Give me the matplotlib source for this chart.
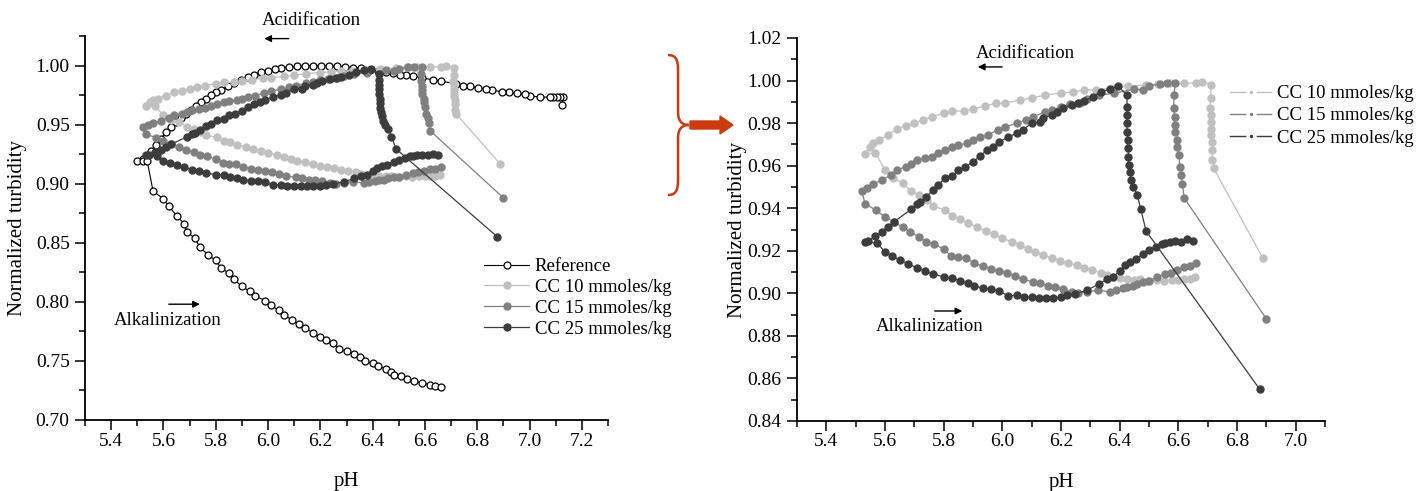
import numpy as np
import matplotlib
matplotlib.use("Agg")
import matplotlib.pyplot as plt
from matplotlib.lines import Line2D
from matplotlib.path import Path
from matplotlib.patches import PathPatch, FancyArrow
from matplotlib.ticker import MultipleLocator

plt.rcParams["font.family"] = ["Liberation Serif", "DejaVu Serif"]
plt.rcParams["font.size"] = 14

# Reference (no CC): pH / normalized turbidity, in measuring order
ref_ph = [7.123, 7.129, 7.116, 7.104, 7.09, 7.078, 7.04, 7.001, 6.982, 6.953, 6.922,
          6.893, 6.855, 6.833, 6.803, 6.774, 6.744, 6.718, 6.663, 6.631, 6.587,
          6.554, 6.529, 6.506, 6.478, 6.452, 6.421, 6.389, 6.357, 6.325, 6.294,
          6.263, 6.233, 6.202, 6.171, 6.141, 6.110, 6.079, 6.050, 6.025, 5.999,
          5.974, 5.948, 5.922, 5.897, 5.871, 5.846, 5.820, 5.801, 5.782, 5.763,
          5.744, 5.725, 5.705, 5.686, 5.667, 5.648, 5.629, 5.610, 5.590, 5.571,
          5.552, 5.52, 5.50, 5.52, 5.538,
          5.56, 5.60, 5.62, 5.65, 5.68, 5.69, 5.72, 5.74, 5.77, 5.80, 5.82, 5.85,
          5.87, 5.90, 5.93, 5.95, 5.99, 6.01, 6.04, 6.06, 6.09, 6.12, 6.14, 6.17,
          6.20, 6.22, 6.25, 6.27, 6.30, 6.33, 6.35, 6.37, 6.40, 6.42, 6.45, 6.47,
          6.48, 6.51, 6.53, 6.56, 6.59, 6.62, 6.64, 6.66]
ref_turb = [0.9662, 0.9733, 0.9733, 0.9733, 0.9733, 0.9733, 0.9733, 0.9744, 0.9755,
            0.9766, 0.9772, 0.978, 0.9789, 0.9803, 0.9811, 0.9823, 0.9831, 0.9845,
            0.9868, 0.9879, 0.9896, 0.991, 0.9916, 0.9924, 0.9935, 0.9943, 0.9955,
            0.9966, 0.9975, 0.9983, 0.9989, 0.9994, 0.9997, 1.0, 1.0, 0.9997,
            0.9992, 0.9986, 0.998, 0.9972, 0.9958, 0.9943, 0.9924, 0.9901, 0.9879,
            0.9851, 0.9823, 0.9794, 0.9772, 0.9747, 0.9719, 0.9688, 0.9654, 0.9626,
            0.9592, 0.9558, 0.9521, 0.9479, 0.9437, 0.9381, 0.9324, 0.9276, 0.921,
            0.919, 0.919, 0.919,
            0.894, 0.887, 0.881, 0.873, 0.866, 0.859, 0.854, 0.846, 0.840, 0.835,
            0.829, 0.824, 0.819, 0.813, 0.809, 0.805, 0.801, 0.797, 0.793, 0.789,
            0.785, 0.781, 0.778, 0.774, 0.770, 0.768, 0.765, 0.760, 0.758, 0.756,
            0.753, 0.750, 0.748, 0.746, 0.743, 0.741, 0.738, 0.737, 0.735, 0.733,
            0.731, 0.730, 0.729, 0.728]

# CC 10 mmoles/kg
cc10_ph = [6.888, 6.72, 6.716, 6.715, 6.714, 6.713, 6.712, 6.712, 6.71, 6.708, 6.71,
           6.712, 6.68, 6.66, 6.62, 6.57, 6.53, 6.49, 6.43, 6.38, 6.32, 6.28, 6.24,
           6.20, 6.145, 6.10, 6.06, 6.01, 5.98, 5.94, 5.90, 5.87, 5.83, 5.80, 5.76,
           5.73, 5.70, 5.67, 5.64, 5.61, 5.58, 5.56, 5.55, 5.533, 5.567, 5.60,
           5.628, 5.66, 5.69, 5.717, 5.744, 5.764, 5.805, 5.83, 5.856, 5.883, 5.914,
           5.944, 5.972, 6.00, 6.033, 6.06, 6.088, 6.11, 6.14, 6.17, 6.197, 6.224,
           6.254, 6.28, 6.306, 6.336, 6.357, 6.377, 6.40, 6.425, 6.45, 6.47, 6.496,
           6.527, 6.55, 6.578, 6.60, 6.62, 6.64, 6.656]
cc10_turb = [0.9166, 0.9589, 0.9627, 0.9673, 0.971, 0.9744, 0.977, 0.9805, 0.9838,
             0.987, 0.9918, 0.998, 0.9993, 0.9988, 0.9988, 0.9988, 0.9984, 0.9979,
             0.9974, 0.9965, 0.9956, 0.9956, 0.9946, 0.9941, 0.9932, 0.9918, 0.9909,
             0.9894, 0.9894, 0.988, 0.9867, 0.9857, 0.9857, 0.9847, 0.983, 0.9815,
             0.980, 0.9786, 0.9772, 0.9744, 0.972, 0.9706, 0.9689, 0.9655, 0.966,
             0.958, 0.954, 0.9518, 0.948, 0.9462, 0.9438, 0.941, 0.9392, 0.9363,
             0.9349, 0.933, 0.9312, 0.9293, 0.9279, 0.926, 0.9241, 0.9227, 0.9208,
             0.9194, 0.918, 0.9166, 0.9152, 0.9142, 0.9133, 0.9119, 0.911, 0.9095,
             0.9086, 0.9077, 0.9072, 0.9067, 0.9063, 0.9067, 0.9058, 0.9063, 0.9058,
             0.9063, 0.9063, 0.9067, 0.9067, 0.9077]

# CC 15 mmoles/kg
cc15_ph = [6.90, 6.62, 6.614, 6.61, 6.605, 6.602, 6.597, 6.596, 6.59, 6.587, 6.587,
           6.584, 6.585, 6.59, 6.56, 6.537, 6.50, 6.48, 6.45, 6.38, 6.33, 6.29, 6.265,
           6.23, 6.20, 6.17, 6.145, 6.105, 6.08, 6.05, 6.01, 5.985, 5.95, 5.924,
           5.90, 5.88, 5.85, 5.83, 5.805, 5.78, 5.76, 5.737, 5.71, 5.69, 5.67, 5.64,
           5.62, 5.59, 5.56, 5.54, 5.52, 5.533, 5.57, 5.60, 5.63, 5.66, 5.686, 5.716,
           5.74, 5.768, 5.80, 5.826, 5.85, 5.877, 5.904, 5.934, 5.96, 5.99, 6.016,
           6.043, 6.07, 6.105, 6.13, 6.156, 6.18, 6.207, 6.237, 6.258, 6.29, 6.326,
           6.367, 6.387, 6.41, 6.425, 6.445, 6.46, 6.48, 6.50, 6.527, 6.554, 6.574,
           6.595, 6.62, 6.64, 6.66]
cc15_turb = [0.888, 0.9448, 0.9514, 0.9556, 0.9594, 0.965, 0.9688, 0.972, 0.9758,
             0.979, 0.983, 0.987, 0.9932, 0.9988, 0.9988, 0.9984, 0.9974, 0.9956,
             0.996, 0.994, 0.9932, 0.9913, 0.9894, 0.989, 0.9876, 0.9862, 0.9852,
             0.983, 0.9815, 0.980, 0.9782, 0.9768, 0.9744, 0.9735, 0.972, 0.9706,
             0.9697, 0.9688, 0.9674, 0.966, 0.964, 0.9636, 0.9627, 0.9608, 0.9594,
             0.958, 0.9556, 0.9533, 0.9514, 0.9495, 0.948, 0.942, 0.939, 0.9359,
             0.9335, 0.9312, 0.9288, 0.9265, 0.9241, 0.9232, 0.9208, 0.9175, 0.917,
             0.9166, 0.9142, 0.9128, 0.9114, 0.9105, 0.9095, 0.9081, 0.9067, 0.9053,
             0.9048, 0.9034, 0.903, 0.902, 0.9006, 0.9001, 0.9006, 0.9016, 0.9006,
             0.9016, 0.9025, 0.903, 0.9034, 0.9044, 0.9053, 0.9058, 0.9077, 0.9091,
             0.9095, 0.911, 0.9124, 0.9128, 0.9142]

# CC 25 mmoles/kg
cc25_ph = [6.877, 6.49, 6.472, 6.46, 6.447, 6.44, 6.435, 6.432, 6.43, 6.428, 6.427,
           6.426, 6.425, 6.425, 6.425, 6.425, 6.394, 6.367, 6.336, 6.31, 6.28, 6.258,
           6.237, 6.207, 6.186, 6.17, 6.14, 6.13, 6.10, 6.07, 6.05, 6.02, 5.99,
           5.968, 5.948, 5.924, 5.90, 5.873, 5.85, 5.83, 5.805, 5.78, 5.764, 5.74,
           5.72, 5.71, 5.69, 5.63, 5.61, 5.59, 5.567, 5.543, 5.533, 5.574, 5.60,
           5.625, 5.652, 5.68, 5.71, 5.737, 5.764, 5.80, 5.83, 5.856, 5.883, 5.904,
           5.934, 5.96, 5.99, 6.02, 6.05, 6.074, 6.10, 6.125, 6.15, 6.173, 6.20,
           6.22, 6.248, 6.29, 6.33, 6.357, 6.377, 6.40, 6.418, 6.435, 6.455, 6.48,
           6.50, 6.523, 6.544, 6.554, 6.57, 6.59, 6.61, 6.63, 6.65]
cc25_turb = [0.855, 0.9293, 0.9396, 0.9462, 0.950, 0.9533, 0.957, 0.9603, 0.964,
             0.9683, 0.972, 0.9758, 0.980, 0.9838, 0.9876, 0.9932, 0.9974, 0.996,
             0.9946, 0.9923, 0.9904, 0.9894, 0.9885, 0.9871, 0.9852, 0.9838, 0.9824,
             0.9805, 0.980, 0.9768, 0.9753, 0.9735, 0.9711, 0.9688, 0.9674, 0.9645,
             0.9617, 0.9594, 0.958, 0.9551, 0.9542, 0.9509, 0.9486, 0.9453, 0.9429,
             0.942, 0.9396, 0.9335, 0.9312, 0.9288, 0.9269, 0.9246, 0.9241, 0.9236,
             0.9194, 0.9175, 0.9156, 0.9138, 0.9119, 0.9105, 0.9091, 0.9077, 0.9072,
             0.9058, 0.9048, 0.9034, 0.9025, 0.902, 0.9011, 0.8987, 0.8992, 0.8983,
             0.8983, 0.8978, 0.8978, 0.8978, 0.8983, 0.8992, 0.8997, 0.9016, 0.9044,
             0.9067, 0.9077, 0.9105, 0.9133, 0.9147, 0.9161, 0.9185, 0.9203, 0.9218,
             0.9232, 0.9236, 0.9241, 0.9246, 0.9241, 0.9255, 0.9246]

cc_series = [
    ("CC 10 mmoles/kg", cc10_ph, cc10_turb, "#c0c0c0"),
    ("CC 15 mmoles/kg", cc15_ph, cc15_turb, "#808080"),
    ("CC 25 mmoles/kg", cc25_ph, cc25_turb, "#3c3c3c"),
]

W, H = 1426, 491
fig = plt.figure(figsize=(W / 100, H / 100), dpi=100)


def fx(px):
    return px / W


def fy(py):
    return 1 - py / H


def style_axes(ax, ylabelpad):
    for s in ("top", "right"):
        ax.spines[s].set_visible(False)
    ax.spines["left"].set_linewidth(1.3)
    ax.spines["bottom"].set_linewidth(1.3)
    ax.tick_params(which="both", direction="out", width=1.1)
    ax.tick_params(which="major", length=7.5)
    ax.tick_params(which="minor", length=4)
    ax.tick_params(axis="x", which="major", pad=1.5)
    ax.set_xlabel("pH", fontsize=15, labelpad=16)
    ax.set_ylabel("Normalized turbidity", fontsize=15, labelpad=ylabelpad)


# left panel
ax1 = fig.add_axes([fx(85), fy(420), fx(608) - fx(85), fy(36) - fy(420)])
ax1.plot(ref_ph, ref_turb, color="black", lw=0.8, marker="o", ms=5,
         mfc="white", mec="black", mew=0.9, label="Reference")
for name, ph, turb, c in cc_series:
    ax1.plot(ph, turb, color=c, lw=0.9, marker="o", ms=5, mec=c, label=name)
ax1.set_xlim(5.3, 7.3)
ax1.set_ylim(0.70, 1.025)
ax1.xaxis.set_major_locator(MultipleLocator(0.2))
ax1.xaxis.set_minor_locator(MultipleLocator(0.1))
ax1.yaxis.set_major_locator(MultipleLocator(0.05))
ax1.yaxis.set_minor_locator(MultipleLocator(0.025))
ax1.yaxis.set_major_formatter(lambda v, p: f"{v:.2f}")
style_axes(ax1, 6)
ax1.legend(loc="upper left", bbox_to_anchor=(fx(484), fy(258)),
           bbox_transform=fig.transFigure, frameon=False, borderpad=0,
           fontsize=13.5, borderaxespad=0, labelspacing=0.2, handlelength=2.4,
           handletextpad=0.3)

arrow_kw = dict(arrowstyle="-|>", color="black", lw=1, mutation_scale=10)
ax1.text(6.166, 1.038, "Acidification", ha="center", va="center", fontsize=13.5,
         clip_on=False)
ax1.annotate("", xy=(5.975, 1.0228), xytext=(6.09, 1.0228), arrowprops=arrow_kw,
             annotation_clip=False)
ax1.text(5.615, 0.7838, "Alkalinization", ha="center", va="center", fontsize=13.5)
ax1.annotate("", xy=(5.75, 0.798), xytext=(5.61, 0.798), arrowprops=arrow_kw)

# right panel
ax2 = fig.add_axes([fx(797), fy(421), fx(1325) - fx(797), fy(38) - fy(421)])
handles = []
for name, ph, turb, c in cc_series:
    ax2.plot(ph, turb, color=c, lw=0.9, marker="o", ms=5, mec=c)
    handles.append(Line2D([], [], color=c, lw=1, marker="o", ms=5, mfc=c,
                          mec="white", mew=2.5, label=name))
ax2.set_xlim(5.3, 7.1)
ax2.set_ylim(0.84, 1.02)
ax2.xaxis.set_major_locator(MultipleLocator(0.2))
ax2.xaxis.set_minor_locator(MultipleLocator(0.01 * 10))
ax2.yaxis.set_major_locator(MultipleLocator(0.02))
ax2.yaxis.set_minor_locator(MultipleLocator(0.01))
ax2.yaxis.set_major_formatter(lambda v, p: f"{v:.2f}")
style_axes(ax2, 0)
ax2.legend(handles=handles, loc="upper left", bbox_to_anchor=(fx(1230), fy(85)),
           bbox_transform=fig.transFigure, frameon=False, borderpad=0,
           fontsize=13.5, borderaxespad=0, labelspacing=0.28, handlelength=2.2,
           handletextpad=0.3)

ax2.text(6.077, 1.0125, "Acidification", ha="center", va="center", fontsize=13.5)
ax2.annotate("", xy=(5.907, 1.0064), xytext=(6.009, 1.0064), arrowprops=arrow_kw)
ax2.text(5.754, 0.8846, "Alkalinization", ha="center", va="center", fontsize=13.5)
ax2.annotate("", xy=(5.873, 0.8917), xytext=(5.76, 0.8917), arrowprops=arrow_kw)

# red brace and arrow between the panels
red = "#cc3a10"
bx0, bx1, bx2 = fx(668), fx(678), fx(689)
verts = [
    (bx0, fy(55)), (fx(676), fy(55)), (bx1, fy(60)), (bx1, fy(70)),
    (bx1, fy(112)),
    (bx1, fy(121)), (fx(682), fy(125)), (bx2, fy(125)),
    (fx(682), fy(125)), (bx1, fy(129)), (bx1, fy(138)),
    (bx1, fy(180)),
    (bx1, fy(190)), (fx(676), fy(195)), (bx0, fy(195)),
]
codes = [Path.MOVETO, Path.CURVE4, Path.CURVE4, Path.CURVE4, Path.LINETO,
         Path.CURVE4, Path.CURVE4, Path.CURVE4,
         Path.CURVE4, Path.CURVE4, Path.CURVE4, Path.LINETO,
         Path.CURVE4, Path.CURVE4, Path.CURVE4]
fig.add_artist(PathPatch(Path(verts, codes), facecolor="none", edgecolor=red,
                         lw=1.8, transform=fig.transFigure))
fig.add_artist(FancyArrow(fx(690), fy(125), fx(733) - fx(690), 0, width=8 / H,
                          head_width=18 / H, head_length=13 / W,
                          length_includes_head=True, color=red,
                          transform=fig.transFigure))

fig.savefig("out.png", dpi=100)
